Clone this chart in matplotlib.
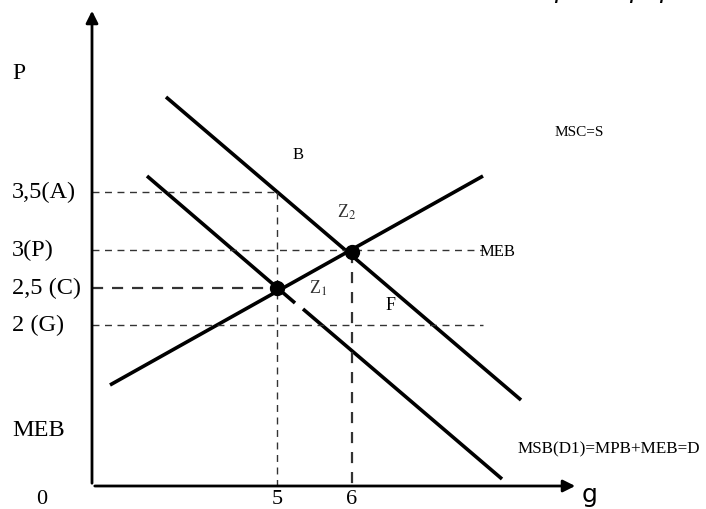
import numpy as np
import matplotlib.pyplot as plt

plt.rcParams["mathtext.fontset"] = "stix"

# coordinates in image pixels (y grows downwards)
origin = (92, 486)
x_end = 578
y_end = 8

# curves: (x0, y0, x1, y1)
supply = [110, 385, 483, 176]           # MSC = S
msb = [166, 97, 521, 400]               # MSB(D1)
mpb_a = [147, 176, 295, 303]            # MPB, part 1
mpb_b = [303, 309, 502, 479]            # MPB, part 2

# equilibrium points
z1 = (277, 288)
z2 = (352, 252)

# dashed guides: y level, x end
h_levels = [192, 250, 288, 325]
h_ends = [277, 483, 277, 483]
h_widths = [1.0, 1.0, 1.6, 1.0]
v_pos = [277, 352]
v_top = [192, 252]
v_widths = [1.0, 1.6]

y_labels = ["3,5(A)", "3(P)", "2,5 (C)", "2 (G)"]
x_ticks = ["5", "6"]

fig = plt.figure(figsize=(7.06, 5.09), dpi=100)
ax = fig.add_axes([0, 0, 1, 1])
ax.set_xlim(0, 706)
ax.set_ylim(509, 0)
ax.axis("off")

serif = "Liberation Serif"

# axes with arrows
ax.annotate("", xy=(x_end, origin[1]), xytext=(origin[0], origin[1]),
            arrowprops=dict(arrowstyle="-|>", lw=2, color="black", mutation_scale=18))
ax.annotate("", xy=(origin[0], y_end), xytext=(origin[0], origin[1]),
            arrowprops=dict(arrowstyle="-|>", lw=2, color="black", mutation_scale=18))

for seg in [supply, msb, mpb_a, mpb_b]:
    ax.plot([seg[0], seg[2]], [seg[1], seg[3]], color="black", lw=2.6,
            solid_capstyle="butt")

for lvl, xe, w in zip(h_levels, h_ends, h_widths):
    ax.plot([origin[0], xe], [lvl, lvl], color="#333333", lw=w, ls=(0, (5, 4)))
for xv, yt, w in zip(v_pos, v_top, v_widths):
    ax.plot([xv, xv], [yt, origin[1]], color="#333333", lw=w, ls=(0, (5, 4)))

ax.plot([z1[0], z2[0]], [z1[1], z2[1]], "o", color="black", ms=10)

for lbl, lvl in zip(y_labels, h_levels):
    ax.text(12, lvl, lbl, fontsize=17.5, family=serif, va="center", ha="left")
ax.text(12, 73, "P", fontsize=17, family=serif, va="center")
ax.text(12, 430, "MEB", fontsize=17.5, family=serif, va="center")
ax.text(42, 499, "0", fontsize=16, family=serif, va="center", ha="center")
for t, xv in zip(x_ticks, v_pos):
    ax.text(xv, 499, t, fontsize=16, family=serif, va="center", ha="center")
ax.text(582, 495, "g", fontsize=18, family="DejaVu Sans", va="center")

ax.text(298, 155, "B", fontsize=12, family=serif, va="center", ha="center")
ax.text(347, 212, r"Z$_2$", fontsize=13, family=serif, va="center", ha="center",
        color="#333333")
ax.text(318, 288, r"Z$_1$", fontsize=13, family=serif, va="center", ha="center",
        color="#333333")
ax.text(391, 306, "F", fontsize=13, family=serif, va="center", ha="center")
ax.text(480, 252, "MEB", fontsize=12, family=serif, va="center")
ax.text(555, 133, "MSC=S", fontsize=11, family=serif, va="center")
ax.text(518, 449, "MSB(D1)=MPB+MEB=D", fontsize=12.3, family=serif, va="center")

# clipped text at the top edge
for xv in [562, 637, 667]:
    ax.text(xv, -2, "p", fontsize=18, style="italic", va="baseline", ha="center")

fig.savefig("out.png", dpi=100)
